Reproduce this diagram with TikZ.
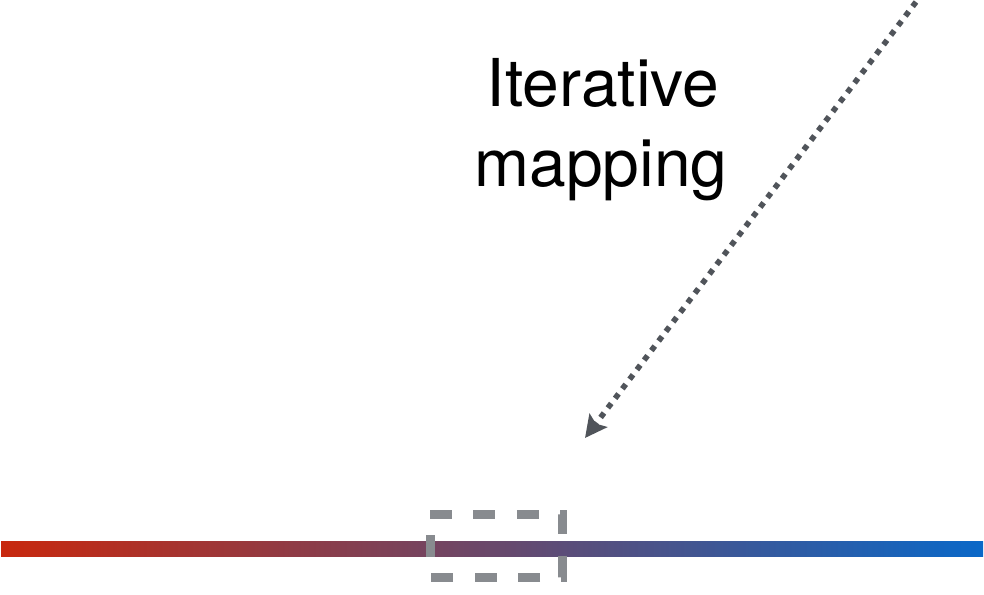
\documentclass[tikz,border=0pt]{standalone}
\usepackage{fontspec}
\setmainfont{TeX Gyre Heros}
\usepackage{tikz}
\usetikzlibrary{positioning,arrows.meta}

\definecolor{barred}{RGB}{200,40,14}
\definecolor{barblue}{RGB}{10,104,200}
\definecolor{boxgray}{RGB}{136,139,143}
\definecolor{arrowgray}{RGB}{80,84,90}

\tikzset{
  label/.style={font=\fontsize{33}{40}\selectfont, anchor=base, inner sep=0pt},
  zoombox/.style={draw=boxgray, line width=4.5pt, dash pattern=on 11pt off 10.7pt},
  mapline/.style={draw=arrowgray, line width=2.8pt, dash pattern=on 2.8pt off 3.2pt,
    -{Stealth[length=11pt,width=11pt,inset=2pt]}}
}

\begin{document}
\begin{tikzpicture}[x=0.5pt,y=-0.5pt]
\useasboundingbox (0,0) rectangle (984,594);
% colour bar
\shade[left color=barred, right color=barblue] (1,541) rectangle (983,556);
% zoomed part of the bar
\draw[zoombox] (430,514) -- (562,514) -- (562,577) -- (430,577) -- cycle;
% label and arrow
\node[label] (iter) at (603,106) {Iterative};
\node[label] (map) at (601,186) {mapping};
\coordinate (from) at (916,2);
\coordinate (to) at (585,438);
\draw[mapline] (from)--(to);
\end{tikzpicture}
\end{document}
